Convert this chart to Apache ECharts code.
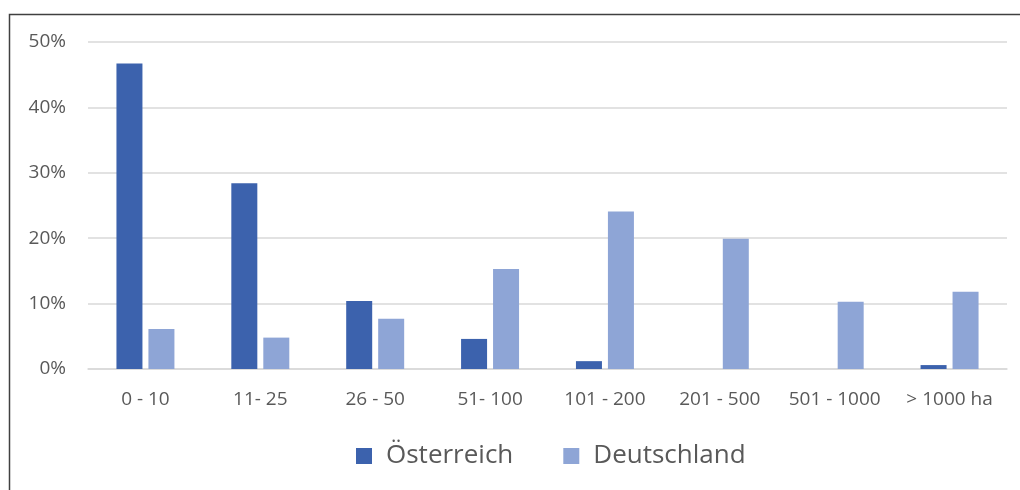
<!DOCTYPE html>
<html>
<head>
<meta charset="utf-8">
<script src="https://cdn.jsdelivr.net/npm/echarts@6/dist/echarts.min.js"></script>
<style>
  html, body { margin: 0; padding: 0; background: #fff; }
</style>
</head>
<body>
<div id="myChart" style="width:1020px;height:490px;"></div>
<script>
  var categories = ['0 - 10', '11- 25', '26 - 50', '51- 100', '101 - 200', '201 - 500', '501 - 1000', '> 1000 ha']
  var oesterreich = [46.7, 28.4, 10.4, 4.6, 1.2, 0, 0, 0.6]
  var deutschland = [6.1, 4.8, 7.7, 15.3, 24.1, 19.9, 10.3, 11.8]
  var seriesNames = ['Österreich', 'Deutschland']

  var myChart = echarts.init(document.getElementById('myChart'))
  var font = '"Open Sans", "Noto Sans", sans-serif'
  var option = {
    animation: false,
    textStyle: { fontFamily: font },
    graphic: [{
      type: 'rect',
      shape: { x: 9.5, y: 14.5, width: 1100, height: 600 },
      style: { fill: 'none', stroke: '#404040', lineWidth: 1.5 },
      silent: true
    }],
    grid: { left: 88, right: 13, top: 42, bottom: 121 },
    legend: {
      top: 438,
      left: 351,
      itemWidth: 16,
      itemHeight: 16,
      itemGap: 50,
      icon: 'rect',
      textStyle: { fontSize: 26, color: '#595959', fontFamily: font, padding: [0, 0, 0, 9] },
      data: seriesNames
    },
    xAxis: {
      type: 'category',
      data: categories,
      axisLine: { lineStyle: { color: '#d9d9d9', width: 1.5 } },
      axisTick: { show: false },
      axisLabel: { color: '#595959', fontSize: 19, margin: 21, interval: 0, fontFamily: font }
    },
    yAxis: {
      type: 'value',
      min: 0,
      max: 50,
      interval: 10,
      axisLine: { show: false },
      axisTick: { show: false },
      splitLine: { lineStyle: { color: '#d9d9d9', width: 1.5 } },
      axisLabel: { color: '#595959', fontSize: 19, margin: 22, formatter: '{value}%', fontFamily: font }
    },
    series: [{
      name: seriesNames[0],
      type: 'bar',
      data: oesterreich,
      barWidth: 26,
      barGap: '23%',
      itemStyle: { color: '#3c62ad' }
    }, {
      name: seriesNames[1],
      type: 'bar',
      data: deutschland,
      barWidth: 26,
      barGap: '23%',
      itemStyle: { color: '#8ea5d6' }
    }]
  }
  myChart.setOption(option)
</script>
</body>
</html>
